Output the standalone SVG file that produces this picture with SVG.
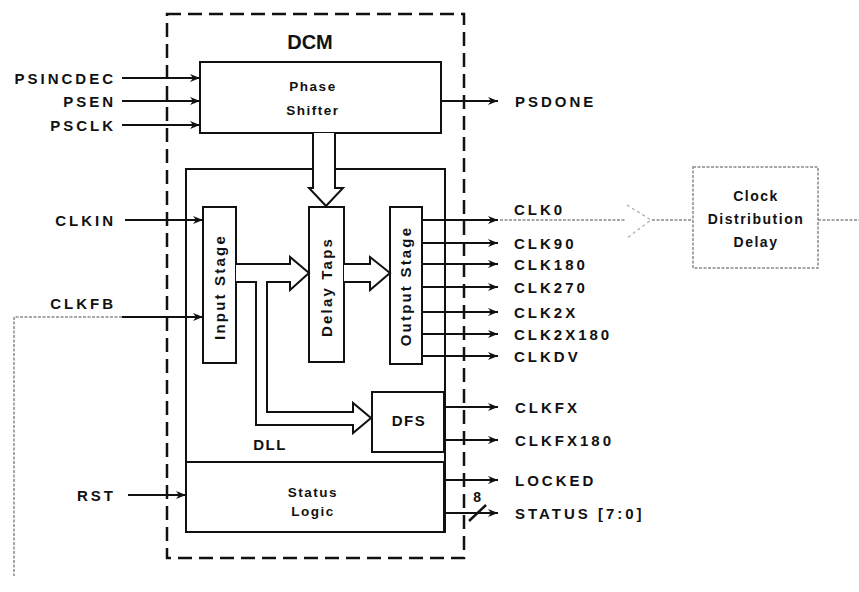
<svg xmlns="http://www.w3.org/2000/svg" width="859" height="592" viewBox="0 0 859 592">
<defs>
<style>
.t{font-family:"Liberation Sans",Arial,sans-serif;font-weight:bold;font-size:15px;letter-spacing:3px;fill:#111}
.s{font-family:"Liberation Sans",Arial,sans-serif;font-weight:bold;font-size:13.5px;letter-spacing:1.5px;fill:#111;text-anchor:middle}
.r{font-family:"Liberation Sans",Arial,sans-serif;font-weight:bold;font-size:15px;letter-spacing:2.2px;fill:#111;text-anchor:middle}
.box{fill:#fff;stroke:#111;stroke-width:2}
.ln{fill:none;stroke:#111;stroke-width:2}
.gd{fill:none;stroke:#8a8a8a;stroke-width:1.5;stroke-dasharray:3 1.5}
</style>
<marker id="ah" viewBox="0 0 10 8" refX="10" refY="4" markerWidth="10" markerHeight="8" markerUnits="userSpaceOnUse" orient="auto">
<path d="M0,0 L10,4 L0,8 L3,4 Z" fill="#111"/>
</marker>
</defs>
<rect width="859" height="592" fill="#fff"/>

<g id="dcm">
<rect x="167" y="14" width="297" height="544" fill="none" stroke="#111" stroke-width="2.5" stroke-dasharray="14 7"/>
<text x="310" y="49" style="font-family:'Liberation Sans',Arial,sans-serif;font-weight:bold;font-size:20px;fill:#111" text-anchor="middle">DCM</text>
</g>

<g id="dll">
<rect x="186" y="169" width="259" height="363" class="box"/>
<text x="270" y="450" class="s" style="font-size:15px">DLL</text>
</g>

<g id="phase-shifter">
<rect x="200" y="62" width="241" height="71" class="box"/>
<text x="313" y="91" class="s">Phase</text>
<text x="313" y="115" class="s">Shifter</text>
</g>

<g id="input-stage">
<rect x="203" y="207" width="33" height="156" class="box"/>
<text transform="translate(225,287) rotate(-90)" class="r">Input Stage</text>
</g>

<g id="delay-taps">
<rect x="309" y="207" width="35" height="155" class="box"/>
<text transform="translate(332,287) rotate(-90)" class="r">Delay Taps</text>
</g>

<g id="output-stage">
<rect x="390" y="207" width="32" height="157" class="box"/>
<text transform="translate(411,286) rotate(-90)" class="r">Output Stage</text>
</g>

<g id="dfs">
<rect x="372" y="392" width="72" height="60" class="box"/>
<text x="409" y="426" class="s" style="font-size:15px">DFS</text>
</g>

<g id="status-logic">
<rect x="186" y="462" width="258" height="70" class="box"/>
<text x="313" y="497" class="s">Status</text>
<text x="313" y="516" class="s">Logic</text>
</g>

<g id="clock-distribution-delay">
<rect x="693" y="167" width="125" height="101" class="gd" stroke-width="1.2"/>
<text x="756" y="201" class="s" style="font-size:14px">Clock</text>
<text x="756" y="224" class="s" style="font-size:14px">Distribution</text>
<text x="756" y="247" class="s" style="font-size:14px">Delay</text>
</g>

<g id="connectors">
<path d="M313,133 L313,188 L309,188 L326,206 L343,188 L335,188 L335,133" fill="#fff" stroke="#111" stroke-width="2"/>
<path d="M236,264 L290,264 L290,257 L309,273 L290,290 L290,282 L267,282 L267,412 L353,412 L353,403 L371,418 L353,433 L353,425 L256,425 L256,282 L236,282" fill="#fff" stroke="#111" stroke-width="2"/>
<path d="M344,264 L370,264 L370,257 L390,273 L370,290 L370,282 L344,282" fill="#fff" stroke="#111" stroke-width="2"/>

<line x1="122" y1="78" x2="200" y2="78" class="ln" marker-end="url(#ah)"/>
<line x1="122" y1="101" x2="200" y2="101" class="ln" marker-end="url(#ah)"/>
<line x1="122" y1="125" x2="200" y2="125" class="ln" marker-end="url(#ah)"/>
<line x1="125" y1="220" x2="203" y2="220" class="ln" marker-end="url(#ah)"/>
<line x1="122" y1="317" x2="203" y2="317" class="ln" marker-end="url(#ah)"/>
<line x1="128" y1="495" x2="186" y2="495" class="ln" marker-end="url(#ah)"/>
<polyline points="122,317 14,317 14,576" class="gd"/>

<line x1="441" y1="101" x2="498" y2="101" class="ln" marker-end="url(#ah)"/>
<line x1="422" y1="220" x2="498" y2="220" class="ln" marker-end="url(#ah)"/>
<line x1="422" y1="243" x2="498" y2="243" class="ln" marker-end="url(#ah)"/>
<line x1="422" y1="264" x2="498" y2="264" class="ln" marker-end="url(#ah)"/>
<line x1="422" y1="287" x2="498" y2="287" class="ln" marker-end="url(#ah)"/>
<line x1="422" y1="312" x2="498" y2="312" class="ln" marker-end="url(#ah)"/>
<line x1="422" y1="334" x2="498" y2="334" class="ln" marker-end="url(#ah)"/>
<line x1="422" y1="356" x2="498" y2="356" class="ln" marker-end="url(#ah)"/>
<line x1="444" y1="407" x2="498" y2="407" class="ln" marker-end="url(#ah)"/>
<line x1="444" y1="440" x2="498" y2="440" class="ln" marker-end="url(#ah)"/>
<line x1="444" y1="480" x2="498" y2="480" class="ln" marker-end="url(#ah)"/>
<line x1="444" y1="513" x2="498" y2="513" class="ln" marker-end="url(#ah)"/>
<line x1="469" y1="521" x2="486" y2="505" stroke="#111" stroke-width="2.5"/>

<line x1="500" y1="220" x2="626" y2="220" class="gd"/>
<polyline points="627,205 651,220 627,238" fill="none" stroke="#aaa" stroke-width="1.2" stroke-dasharray="3 3"/>
<line x1="652" y1="220" x2="693" y2="220" class="gd"/>
<line x1="818" y1="220" x2="859" y2="220" class="gd"/>
</g>

<g id="labels">
<text x="116" y="84" class="t" text-anchor="end">PSINCDEC</text>
<text x="116" y="107" class="t" text-anchor="end">PSEN</text>
<text x="116" y="131" class="t" text-anchor="end">PSCLK</text>
<text x="116" y="226" class="t" text-anchor="end">CLKIN</text>
<text x="116" y="309" class="t" text-anchor="end">CLKFB</text>
<text x="116" y="501" class="t" text-anchor="end">RST</text>
<text x="515" y="107" class="t">PSDONE</text>
<text x="514" y="215" class="t">CLK0</text>
<text x="514" y="249" class="t">CLK90</text>
<text x="514" y="270" class="t">CLK180</text>
<text x="514" y="293" class="t">CLK270</text>
<text x="514" y="318" class="t">CLK2X</text>
<text x="514" y="340" class="t">CLK2X180</text>
<text x="514" y="362" class="t">CLKDV</text>
<text x="515" y="413" class="t">CLKFX</text>
<text x="515" y="446" class="t">CLKFX180</text>
<text x="515" y="486" class="t">LOCKED</text>
<text x="515" y="519" class="t">STATUS [7:0]</text>
<text x="478" y="502" class="s" style="font-size:14px">8</text>
</g>
</svg>
